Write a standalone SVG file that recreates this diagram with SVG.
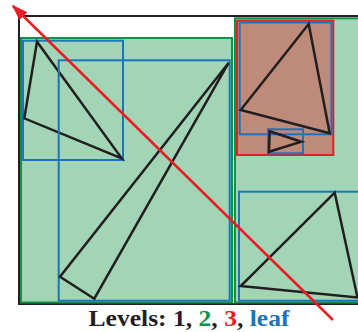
<svg xmlns="http://www.w3.org/2000/svg" width="358" height="332" viewBox="0 0 358 332">
<defs>
<style>
.l1{fill:#ffffff;stroke:#231f20;stroke-width:2}
.l2{fill:#a1d5b6;stroke:#0b9444;stroke-width:2}
.l3{fill:#be8a79;stroke:#ec1c24;stroke-width:2}
.lf{fill:none;stroke:#1b75bb;stroke-width:2}
.tri{fill:none;stroke:#231f20;stroke-width:2.5;stroke-linejoin:miter}
.ray{fill:none;stroke:#ec1c24;stroke-width:2.5}
.lbl{font-family:"Liberation Serif","Times New Roman",serif;font-weight:bold;font-size:24px}
</style>
<marker id="ah" viewBox="0 0 10 10" refX="9" refY="5" markerWidth="6.5" markerHeight="4.5" markerUnits="strokeWidth" orient="auto" preserveAspectRatio="none">
<path d="M0,0 L10,5 L0,10 z" fill="#ec1c24"/>
</marker>
</defs>
<g id="level1"><rect class="l1" x="19" y="16" width="345" height="288"/></g>
<g id="level2-left"><rect class="l2" x="21" y="38" width="211" height="264.5"/></g>
<g id="level2-right"><rect class="l2" x="235" y="18.3" width="130" height="284.2"/></g>
<g id="level3"><rect class="l3" x="237" y="20.7" width="96.3" height="134.3"/></g>
<g id="leaf-a"><rect class="lf" x="23" y="40.7" width="100" height="119.3"/><polygon class="tri" points="37,41.7 24.3,118.3 121.7,158.3"/></g>
<g id="leaf-b"><rect class="lf" x="58.7" y="60.3" width="171" height="240.4"/><polygon class="tri" points="228.7,62.7 60,276.7 94.3,298.7"/></g>
<g id="leaf-c"><rect class="lf" x="239.7" y="22.5" width="91.8" height="111.8"/><polygon class="tri" points="308.7,24 240.7,110 329.7,133.3"/></g>
<g id="leaf-d"><rect class="lf" x="268" y="129.3" width="35" height="24"/><polygon class="tri" points="269.7,131.3 301.3,141.7 269,151.7"/></g>
<g id="leaf-e"><rect class="lf" x="239" y="191.7" width="125" height="109"/><polygon class="tri" points="334.7,192.7 240.7,286 357.5,297.5"/></g>
<g id="connectors"><line class="ray" x1="333" y1="320" x2="13" y2="6" marker-end="url(#ah)"/></g>
<text class="lbl" x="88.5" y="326" textLength="201" lengthAdjust="spacingAndGlyphs"><tspan fill="#231f20">Levels: 1, </tspan><tspan fill="#0b9444">2</tspan><tspan fill="#231f20">, </tspan><tspan fill="#ec1c24">3</tspan><tspan fill="#231f20">, </tspan><tspan fill="#1b75bb">leaf</tspan></text>
</svg>
